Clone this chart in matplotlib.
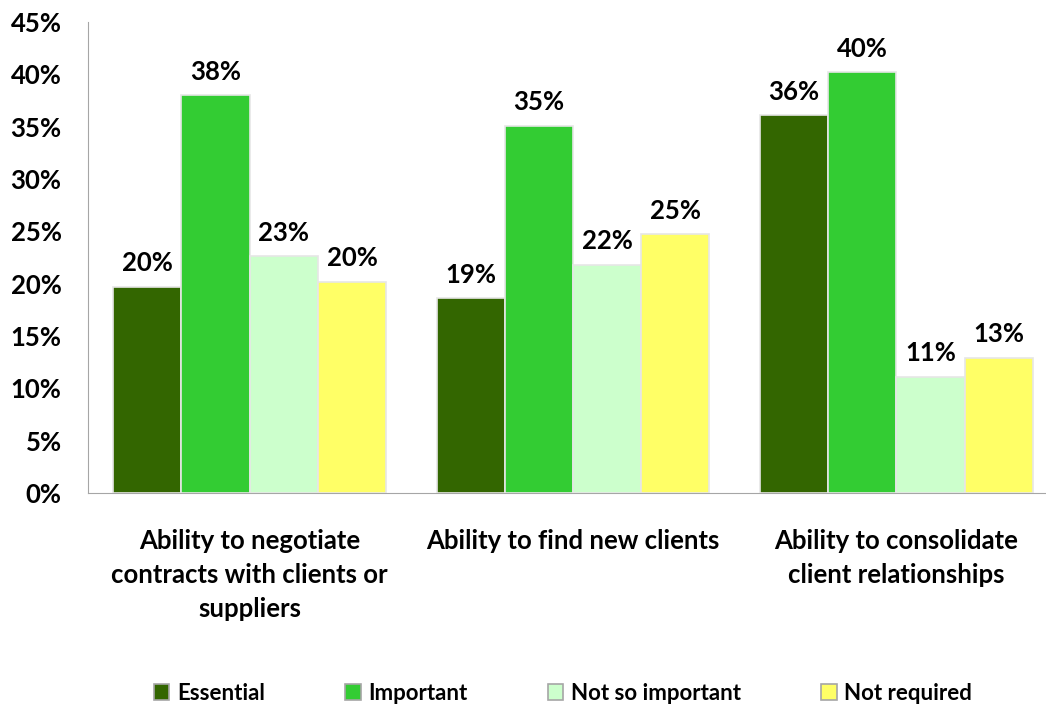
import matplotlib.pyplot as plt
import numpy as np

### Survey data ###

categories = ['Ability to negotiate\ncontracts with clients or\nsuppliers',
              'Ability to find new clients',
              'Ability to consolidate\nclient relationships']
series_names = ['Essential', 'Important', 'Not so important', 'Not required']
essential = [19.7, 18.6, 36.1]
important = [38.0, 35.1, 40.2]
not_so_important = [22.6, 21.8, 11.1]
not_required = [20.2, 24.7, 12.9]
all_series = [essential, important, not_so_important, not_required]
colors = ['#336600', '#33cc33', '#ccffcc', '#ffff66']

plt.rcParams['font.family'] = ['Lato', 'DejaVu Sans']
plt.rcParams['font.weight'] = 'bold'

fig = plt.figure(figsize=(10.46, 7.08), dpi=100)
ax = fig.add_axes([88 / 1046, 1 - 493 / 708, 970 / 1046, 471 / 708])

x = np.arange(len(categories))
width = 0.211
for i, (vals, name, col) in enumerate(zip(all_series, series_names, colors)):
    pos = x + (i - 1.5) * width
    ax.bar(pos, vals, width, color=col, edgecolor='#e6e6e6', linewidth=1.2, label=name, zorder=3)
    for p, v in zip(pos, vals):
        ax.text(p, v + 1.1, f'{round(v):.0f}%', ha='center', va='bottom', fontsize=18.5, fontweight='bold')

ax.set_xlim(-0.5, 2.5)
ax.set_ylim(0, 45)
ax.set_yticks(range(0, 46, 5))
ax.set_yticklabels([f'{t}%' for t in range(0, 46, 5)], fontsize=18.5, fontweight='bold')
ax.tick_params(axis='y', length=0, pad=19)
ax.set_xticks(x)
ax.set_xticklabels(categories, fontsize=18.5, fontweight='bold', linespacing=1.5)
ax.tick_params(axis='x', length=0, pad=26)
for s in ['top', 'right']:
    ax.spines[s].set_visible(False)
ax.spines['left'].set_color('#a6a6a6')
ax.spines['bottom'].set_color('#a6a6a6')

leg = ax.legend(loc='center', bbox_to_anchor=(563 / 1046, 1 - 693 / 708), bbox_transform=fig.transFigure,
                ncol=4, frameon=False, fontsize=16, handlelength=0.7, handleheight=0.7,
                columnspacing=3.6, handletextpad=0.35)
for h in leg.legend_handles:
    h.set_edgecolor('#a6a6a6')

fig.savefig('out.png', dpi=100)
